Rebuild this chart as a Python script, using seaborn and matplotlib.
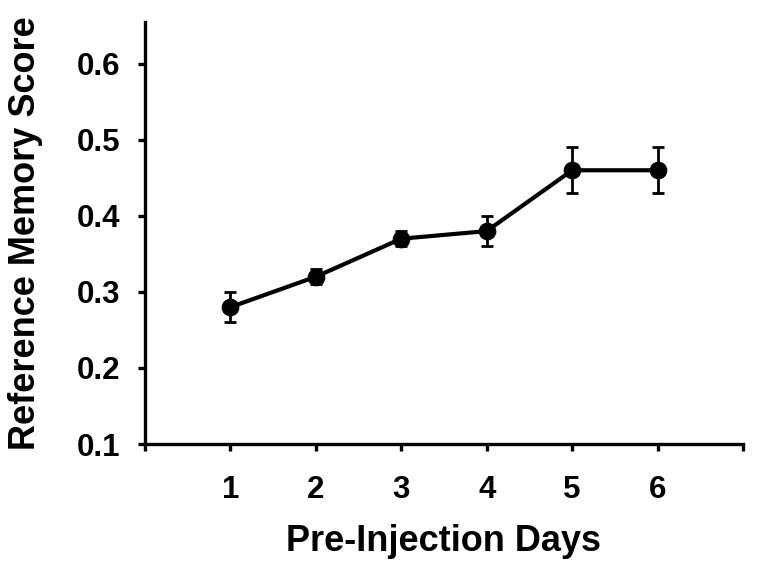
import pandas as pd
import matplotlib.pyplot as plt
import seaborn as sns

# data
days = [1, 2, 3, 4, 5, 6]
score = [0.28, 0.32, 0.37, 0.38, 0.46, 0.46]
sem = [0.02, 0.01, 0.01, 0.02, 0.03, 0.03]

df = pd.DataFrame({'day': days, 'score': score, 'sem': sem})

sns.set_style('ticks')
plt.rcParams['font.family'] = ['Liberation Sans', 'DejaVu Sans']
plt.rcParams['font.weight'] = 'bold'
plt.rcParams['text.color'] = 'black'
plt.rcParams['axes.labelcolor'] = 'black'
plt.rcParams['axes.edgecolor'] = 'black'

fig = plt.figure(figsize=(7.72, 5.75), dpi=100)
ax = fig.add_axes([145 / 772, 1 - 444 / 575, (743 - 145) / 772, (444 - 22) / 575])

# error bars first, then the line with markers on top
ax.errorbar(df['day'], df['score'], yerr=df['sem'], fmt='none',
            ecolor='black', elinewidth=2, capsize=4, capthick=2, zorder=2)
sns.lineplot(data=df, x='day', y='score', ax=ax, color='black',
             linewidth=3, marker='o', markersize=12, markeredgecolor='black',
             zorder=3)

ax.set_xlim(0, 7)
ax.set_ylim(0.1, 0.655)
ax.set_xticks(range(0, 8))
ax.set_xticklabels([''] + [str(d) for d in days] + [''])
ax.set_yticks([0.1, 0.2, 0.3, 0.4, 0.5, 0.6])
ax.set_yticklabels(['0.1', '0.2', '0.3', '0.4', '0.5', '0.6'])

for side in ['top', 'right']:
    ax.spines[side].set_visible(False)
for side in ['left', 'bottom']:
    ax.spines[side].set_linewidth(2.4)

ax.tick_params(axis='both', which='major', length=5, width=2.4,
               labelsize=22.5, colors='black')
ax.tick_params(axis='x', pad=17)
ax.tick_params(axis='y', pad=13)
for lab in ax.get_xticklabels() + ax.get_yticklabels():
    lab.set_fontweight('bold')

ax.set_xlabel('Pre-Injection Days', fontsize=26, fontweight='bold', labelpad=14)
ax.set_ylabel('Reference Memory Score', fontsize=26, fontweight='bold', labelpad=24)

plt.savefig('out.png', dpi=100)
